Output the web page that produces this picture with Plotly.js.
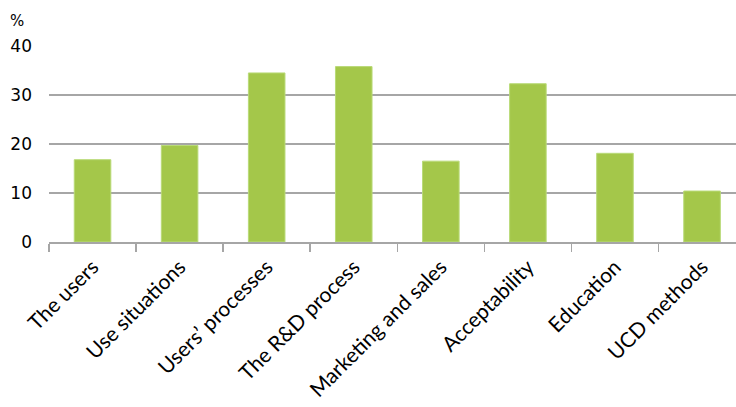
<!DOCTYPE html>
<html>
<head>
<meta charset="utf-8">
<script src="https://cdn.plot.ly/plotly-3.0.1.min.js"></script>
<style>html,body{margin:0;padding:0;background:#fff;}#chart{width:736px;height:407px;}</style>
</head>
<body>
<div id="chart"></div>
<script>
const categories = ["The users", "Use situations", "Users’ processes", "The R&D process", "Marketing and sales", "Acceptability", "Education", "UCD methods"];
const values = [16.8, 19.7, 34.5, 35.8, 16.5, 32.3, 18.1, 10.4];
const yTicks = [0, 10, 20, 30, 40];

const trace = {
  type: "bar",
  x: categories,
  y: values,
  width: 0.42,
  marker: {color: "#a4c74a", line: {color: "#b9da78", width: 1}},
  hoverinfo: "x+y"
};

const layout = {
  width: 736, height: 407,
  margin: {l: 49, r: 0, t: 46, b: 165},
  paper_bgcolor: "#fff", plot_bgcolor: "#fff",
  showlegend: false,
  xaxis: {
    type: "category",
    range: [-0.5, 7.39],
    tickson: "boundaries",
    ticks: "outside", ticklen: 8, tickcolor: "#a6a6a6", tickwidth: 1.5,
    showline: true, linecolor: "#a6a6a6", linewidth: 1.5,
    showgrid: false,
    tickangle: -45,
    ticklabelstandoff: 3,
    tickfont: {family: "Lato, 'Open Sans', sans-serif", size: 21, color: "#000"}
  },
  yaxis: {
    range: [0, 40],
    tickvals: yTicks,
    ticktext: yTicks.map(String),
    showgrid: true, gridcolor: "#a6a6a6", gridwidth: 1.5,
    zeroline: false, showline: false,
    ticks: "",
    ticklabelstandoff: 16,
    tickfont: {family: "'DejaVu Sans', sans-serif", size: 17, color: "#000"}
  },
  annotations: [{
    text: "%", xref: "paper", yref: "paper", x: -0.047, y: 1.127,
    xanchor: "center", yanchor: "middle", showarrow: false,
    font: {family: "'DejaVu Sans', sans-serif", size: 15, color: "#000"}
  }]
};

Plotly.newPlot("chart", [trace], layout, {displayModeBar: false, staticPlot: true});
</script>
</body>
</html>
